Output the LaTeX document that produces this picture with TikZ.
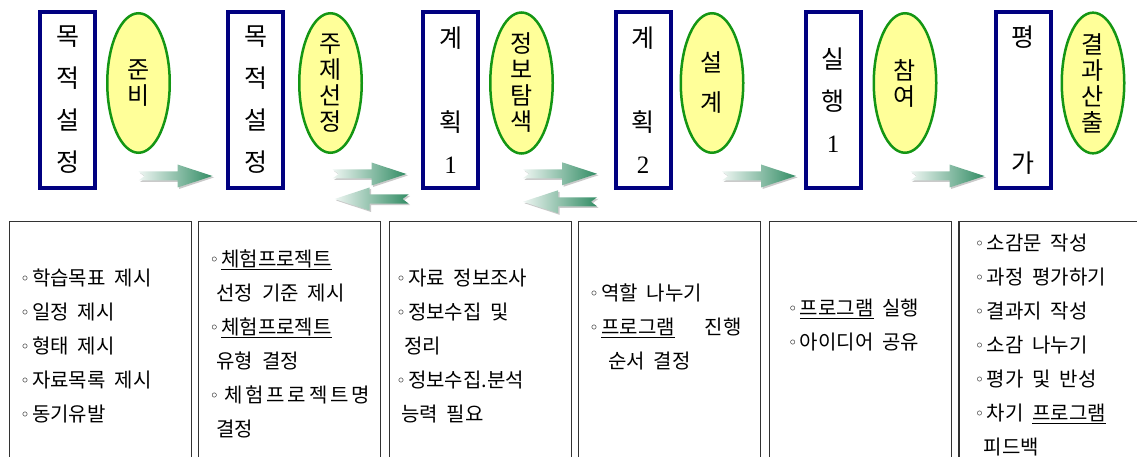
\documentclass[tikz,border=0pt]{standalone}
\usepackage{fontspec}
\setmainfont{Noto Sans CJK KR}
\newfontfamily\listfont[WordSpace=2]{Noto Sans CJK KR}
\newfontfamily\digitfont{Liberation Serif}
\usetikzlibrary{positioning,calc,shapes.geometric,shadows}

\definecolor{stagenavy}{RGB}{0,0,128}
\definecolor{actgreen}{RGB}{20,150,20}
\definecolor{actyellow}{RGB}{255,255,153}
\definecolor{arrowgreen}{RGB}{50,140,100}

\newcommand{\bul}{\raisebox{4pt}{\fontsize{13}{13}\selectfont$\circ$}\hspace{4pt}}

\tikzset{
  fwdarrow/.pic={
    \path[left color=arrowgreen!8, right color=arrowgreen,
      drop shadow={shadow xshift=1.5pt, shadow yshift=-1.5pt, fill=black!35, opacity=.6}]
      (0,-4.5) -- (39,-4.5) -- (39,-11.5) -- (74,0) -- (39,11.5) -- (39,4.5) -- (0,4.5) -- (6,0) -- cycle;
  },
  backarrow/.pic={
    \path[left color=arrowgreen!8, right color=arrowgreen,
      drop shadow={shadow xshift=1.5pt, shadow yshift=-1.5pt, fill=black!35, opacity=.6}]
      (0,-4.5) -- (-39,-4.5) -- (-39,-11.5) -- (-74,0) -- (-39,11.5) -- (-39,4.5) -- (0,4.5) -- (-6,0) -- cycle;
  }
}

\begin{document}
\begin{tikzpicture}[
  x=1pt, y=-1pt,
  stagebox/.style={draw=stagenavy, line width=4pt, minimum width=55pt, minimum height=176pt,
    inner sep=0pt, align=center, font=\fontsize{25}{42}\selectfont},
  actoval/.style={ellipse, draw=actgreen, line width=2.5pt, fill=actyellow, minimum width=62.5pt,
    minimum height=139.5pt, inner sep=0pt, align=center, font=\fontsize{24}{26}\selectfont},
  listbox/.style={draw=black!80, line width=1.2pt, minimum width=182pt, minimum height=248pt, inner sep=0pt},
  listtext/.style={align=left, inner sep=0pt, font=\listfont\fontsize{20}{34}\selectfont}
]
  \useasboundingbox (0,0) rectangle (1137,457);

  % Stages and activities
  \node[stagebox] (goal1) at (67.5,100) {목\\적\\설\\정};
  \node[actoval, right=9pt of goal1, yshift=17pt] (prep) {준\\비};
  \node[stagebox] (goal2) at (255.5,100) {목\\적\\설\\정};
  \node[actoval, right=13pt of goal2, yshift=17pt] (topic) {주\\제\\선\\정};
  \node[stagebox] (plan1) at (450.5,100) {계\\[42pt]획\\{\digitfont 1}};
  \node[actoval, right=9pt of plan1, yshift=17pt] (search) {정\\보\\탐\\색};
  \node[stagebox] (plan2) at (643,100) {계\\[42pt]획\\{\digitfont 2}};
  \node[actoval, right=7pt of plan2, yshift=17pt] (design) {설\\[14pt]계};
  \node[stagebox] (run) at (833,100) {실\\행\\{\digitfont 1}};
  \node[actoval, right=10pt of run, yshift=17pt] (join) {참\\여};
  \node[stagebox] (eval) at (1023,100) {평\\[84pt]가};
  \node[actoval, right=8pt of eval, yshift=17pt] (result) {결\\과\\산\\출};

  % Flow arrows
  \pic at ($(prep.south)+(0,22)$) {fwdarrow};
  \pic at ($(topic.south)+(2,20)$) {fwdarrow};
  \pic at ($(topic.south)+(78,45)$) {backarrow};
  \pic at ($(search.south)+(1.5,19)$) {fwdarrow};
  \pic at ($(search.south)+(75.5,47)$) {backarrow};
  \pic at ($(design.south)+(10,22)$) {fwdarrow};
  \pic at ($(join.south)+(5.5,22)$) {fwdarrow};

  % Task lists
  \node[listbox] (tasks1) at (100.5,345.5) {};
  \node[listbox, right=6pt of tasks1] (tasks2) {};
  \node[listbox, right=7.5pt of tasks2] (tasks3) {};
  \node[listbox, right=6pt of tasks3] (tasks4) {};
  \node[listbox, right=7.5pt of tasks4] (tasks5) {};
  \node[listbox, right=6.5pt of tasks5, minimum width=185pt] (tasks6) {};

  \node[listtext, below right=47.5pt and 13pt of tasks1.north west] (list1)
    {\bul 학습목표 제시\\\bul 일정 제시\\\bul 형태 제시\\\bul 자료목록 제시\\\bul 동기유발};
  \node[listtext, below right=28.5pt and 13pt of tasks2.north west] (list2)
    {\bul\underline{체험프로젝트}\\\hspace{5pt}선정 기준 제시\\\bul\underline{체험프로젝트}\\\hspace{5pt}유형 결정\\
     \bul\hspace{3pt}{\addfontfeature{LetterSpace=14}체험프로젝트명}\\\hspace{5pt}결정};
  \node[listtext, below right=47.5pt and 9pt of tasks3.north west] (list3)
    {\bul 자료 정보조사\\\bul 정보수집 및\\\hspace{6pt}정리\\\bul 정보수집.분석\\\hspace{3pt}능력 필요};
  \node[listtext, below right=62.5pt and 13pt of tasks4.north west] (list4)
    {\bul 역할 나누기\\\bul\underline{프로그램}\hspace{1.5em}진행\\\hspace{17pt}순서 결정};
  \node[listtext, below right=77.5pt and 21pt of tasks5.north west] (list5)
    {\bul\underline{프로그램} 실행\\\bul 아이디어 공유};
  \node[listtext, below right=12.5pt and 18pt of tasks6.north west] (list6)
    {\bul 소감문 작성\\\bul 과정 평가하기\\\bul 결과지 작성\\\bul 소감 나누기\\\bul 평가 및 반성\\
     \bul 차기 \underline{프로그램}\\\hspace{7pt}피드백};
\end{tikzpicture}
\end{document}
